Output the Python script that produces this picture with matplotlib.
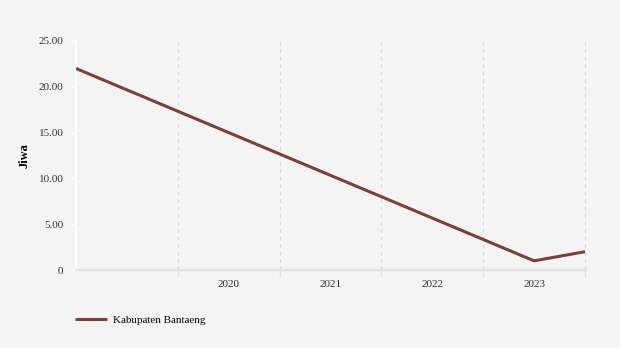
import matplotlib
matplotlib.use('Agg')
from matplotlib import pyplot as plt

# data
years = [2020, 2021, 2022, 2023]
xs = [2018.5, 2023, 2023.5]
vals = [22.0, 1.0, 2.0]
yticks = [0, 5, 10, 15, 20, 25]
ylabels = ['0', '5.00', '10.00', '15.00', '20.00', '25.00']
series = 'Kabupaten Bantaeng'

plt.rcParams['font.family'] = ['Liberation Serif', 'DejaVu Serif']
bg = '#f4f4f4'
W, H = 620, 348
fig = plt.figure(figsize=(W/100, H/100), dpi=100, facecolor=bg)
ax = fig.add_axes([76/W, (H-270)/H, (585-76)/W, (270-41)/H], facecolor=bg)

ax.plot(xs, vals, color='#7d3f38', lw=2.2, solid_capstyle='butt', zorder=3)

ax.set_xlim(2018.5, 2023.5)
ax.set_ylim(0, 25)

# boundaries between years get grid lines + ticks, labels sit in the middle
bounds = [y + 0.5 for y in [2019] + years]
ax.set_xticks(bounds, minor=True)
ax.set_xticks(years)
ax.set_xticklabels([str(y) for y in years], fontsize=8, color='#333333')
ax.tick_params(axis='x', which='major', length=0, pad=7)
ax.tick_params(axis='x', which='minor', length=5, color='#e0e0e0', width=1)
ax.grid(axis='x', which='minor', color='#d8d8d8', linestyle=(0, (3, 3)), lw=0.9)
for t in ax.xaxis.get_minor_ticks():
    t.gridline.set_clip_on(False)

ax.set_yticks(yticks)
ax.set_yticklabels(ylabels, fontsize=8, color='#333333')
ax.tick_params(axis='y', length=4, color='white', width=1, pad=5)
ax.set_ylabel('Jiwa', fontsize=9, fontweight='bold', labelpad=6)

for s in ['top', 'right']:
    ax.spines[s].set_visible(False)
ax.spines['left'].set_color('white')
ax.spines['left'].set_linewidth(1.5)
ax.spines['bottom'].set_color('#e3e3e3')
ax.spines['bottom'].set_linewidth(1.5)

leg = fig.legend([ax.lines[0]], [series], loc='center left',
                 bbox_to_anchor=(65/W, (H-320)/H), frameon=False,
                 fontsize=8, handlelength=2.9, handletextpad=0.5)

fig.savefig('out.png', dpi=100, facecolor=bg)
